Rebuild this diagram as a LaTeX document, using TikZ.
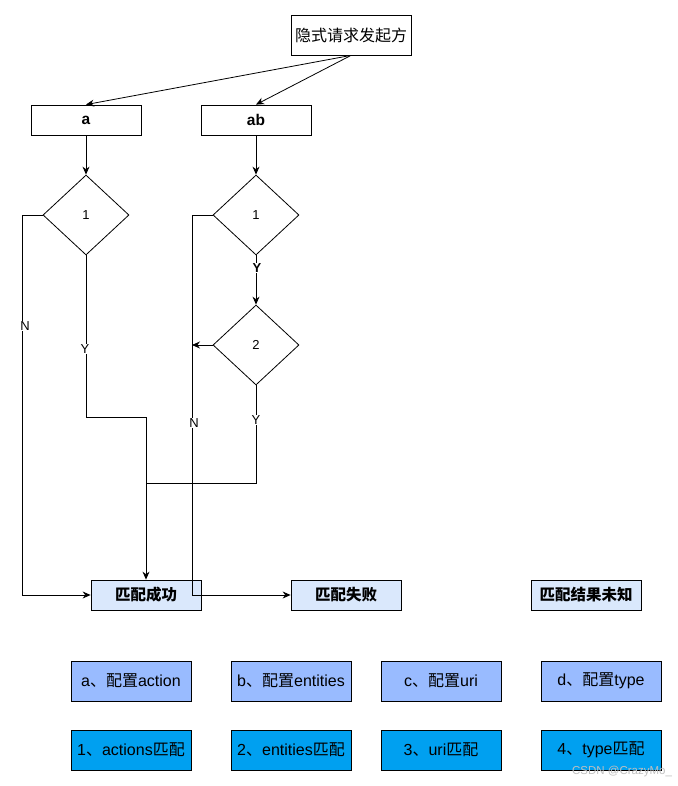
\documentclass[tikz,border=0pt]{standalone}
\usepackage{fontspec}
\setmainfont{Liberation Sans}
\newfontfamily\cjk{Noto Sans CJK SC}
\newcommand{\zh}[1]{{\cjk #1}}
\usetikzlibrary{shapes.geometric,arrows.meta}
\definecolor{boxblue}{HTML}{DAE8FC}
\definecolor{rowone}{HTML}{99BBFF}
\definecolor{rowtwo}{HTML}{00A0F0}
\begin{document}
\begin{tikzpicture}[x=1pt,y=-1pt,
  box/.style={draw=black,line width=0.8pt,rectangle,minimum width=110pt,minimum height=30pt,inner sep=0pt,font=\fontsize{16}{18}\selectfont},
  resbox/.style={box,fill=boxblue,font=\fontsize{15.5}{18}\selectfont\bfseries},
  cfgbox/.style={box,fill=rowone,minimum width=120pt,minimum height=40pt},
  matbox/.style={box,fill=rowtwo,minimum width=120pt,minimum height=40pt},
  dec/.style={draw=black,line width=0.8pt,diamond,minimum width=86pt,minimum height=80pt,inner sep=0pt,font=\fontsize{13}{14}\selectfont},
  lbl/.style={fill=white,inner sep=1pt,font=\fontsize{13}{14}\selectfont},
  conn/.style={draw=black,line width=0.8pt},
  arr/.style={conn,-{Stealth[length=8pt,width=7pt]}}
]
\useasboundingbox (0,0) rectangle (677,786);
% nodes
\node[box,minimum width=120pt,minimum height=40pt] (top) at (351,35) {\zh{隐式请求发起方}};
\node[box,font=\fontsize{15.5}{18}\selectfont\bfseries] (a) at (86,120) {a};
\node[box,font=\fontsize{15.5}{18}\selectfont\bfseries] (ab) at (256,120) {ab};
\node[dec] (d1) at (86,215) {1};
\node[dec] (d2) at (256,215) {1};
\node[dec] (d3) at (256,345) {2};
\node[resbox] (s) at (146,595) {\zh{\bfseries 匹配成功}};
\node[resbox] (f) at (346,595) {\zh{\bfseries 匹配失败}};
\node[resbox] (u) at (586,595) {\zh{\bfseries 匹配结果未知}};
\node[cfgbox] (c1) at (131,681) {a\zh{、配置}action};
\node[cfgbox] (c2) at (291,681) {b\zh{、配置}entities};
\node[cfgbox] (c3) at (441,681) {c\zh{、配置}uri};
\node[cfgbox] (c4) at (601,681) {d\zh{、配置}type};
\node[matbox] (m1) at (131,750) {1\zh{、}actions\zh{匹配}};
\node[matbox] (m2) at (291,750) {2\zh{、}entities\zh{匹配}};
\node[matbox] (m3) at (441,750) {3\zh{、}uri\zh{匹配}};
\node[matbox] (m4) at (601,750) {4\zh{、}type\zh{匹配}};
% helper coordinates
\coordinate (nl) at (22,215);
\coordinate (j1) at (146,417);
\coordinate (nr) at (192,595);
\coordinate (m2l) at (192,345);
\coordinate (j2) at (146,483);
% connectors
\draw[arr] (top.south) -- (a.north);
\draw[arr] (top.south) -- (ab.north);
\draw[arr] (a.south) -- (d1.north);
\draw[arr] (ab.south) -- (d2.north);
\draw[arr] (d1.west) -- (nl) |- (s.west);
\draw[arr] (d1.south) |- (j1) -- (s.north);
\draw[arr] (d2.south) -- (d3.north);
\draw[arr] (d2.west) -| (nr) -- (f.west);
\draw[arr] (d3.west) -- (m2l);
\draw[conn] (d3.south) |- (j2);
% labels
\node[lbl] (lN1) at (25,326) {N};
\node[lbl] (lY1) at (85,349) {Y};
\node[lbl,font=\fontsize{13}{14}\selectfont\bfseries] (lY2) at (257,268) {Y};
\node[lbl] (lN2) at (194,423) {N};
\node[lbl] (lY3) at (256,420) {Y};
\node[text=black!25,font=\fontsize{11.5}{12}\selectfont,inner sep=0pt] (wm) at (622,772) {CSDN @CrazyMo\_};
\end{tikzpicture}
\end{document}
